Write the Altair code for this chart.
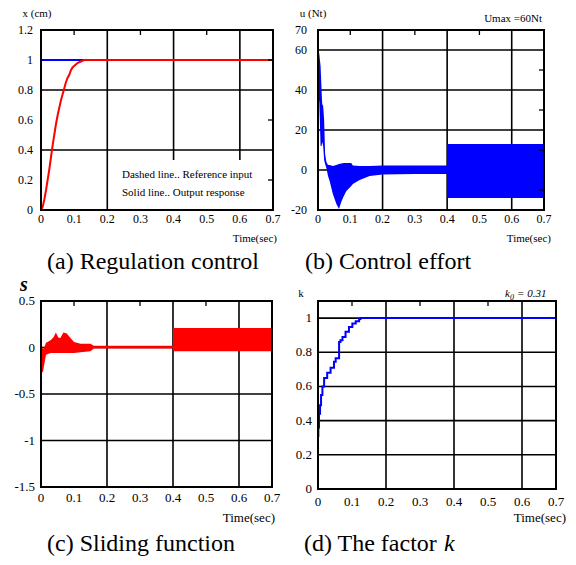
import altair as alt
import pandas as pd

# ---------------- data ----------------
time_ticks = [0, 0.1, 0.2, 0.3, 0.4, 0.5, 0.6, 0.7]
time_labels = ["0", "0.1", "0.2", "0.3", "0.4", "0.5", "0.6", "0.7"]
grid_time = [0.2, 0.4, 0.6]
minor_time = [0.1, 0.3, 0.5]

# (a) regulation control
ref_t = [0, 0.7]
ref_x = [1, 1]
out_t = [0, 0.005, 0.01, 0.015, 0.02, 0.025, 0.03, 0.035, 0.04, 0.045, 0.05, 0.055, 0.06,
         0.065, 0.07, 0.075, 0.08, 0.085, 0.09, 0.095, 0.1, 0.11, 0.12, 0.13, 0.14, 0.7]
out_x = [0, 0.02, 0.07, 0.13, 0.2, 0.27, 0.35, 0.43, 0.5, 0.57, 0.63, 0.68, 0.73,
         0.77, 0.81, 0.85, 0.88, 0.9, 0.93, 0.95, 0.96, 0.98, 0.99, 1.0, 1.0, 1.0]
a_yticks = [0, 0.2, 0.4, 0.6, 0.8, 1, 1.2]
a_ylabels = ["0", "0.2", "0.4", "0.6", "0.8", "1", "1.2"]
a_ygrid = [0.4, 0.8]
a_yminor = [0.2, 0.6, 1.0]

# (b) control effort (envelope of the chattering signal)
u_t = [0, 0.004, 0.008, 0.011, 0.013, 0.016, 0.019, 0.022, 0.026, 0.031, 0.036, 0.046,
       0.057, 0.065, 0.072, 0.08, 0.088, 0.103, 0.108, 0.129, 0.16, 0.2, 0.3, 0.3999, 0.4, 0.7]
u_hi = [61, 58, 52, 40, 33, 32, 25, 8, 4, 2.5, 2.5, 2, 2.5, 3, 3.3, 3.5, 3.5, 3.5, 2.2, 2,
        2, 2.3, 2.3, 2.3, 13, 13]
u_lo = [37, 34, 12, 12, 14, 12, 5, 3, 1, -3, -5.5, -12, -17, -19.5, -16, -13, -10.5, -8, -7,
        -5, -3, -2.3, -2, -2, -14, -14]
b_yticks = [-20, 0, 20, 40, 60, 70]
b_ylabels = ["-20", "0", "20", "40", "60", "70"]
b_ygrid = [0, 20, 40, 60]
b_yminor = [-10, 10, 30, 50]

# (c) sliding function (envelope)
s_t = [0, 0.003, 0.006, 0.01, 0.015, 0.02, 0.03, 0.038, 0.045, 0.052, 0.058, 0.068, 0.078,
       0.09, 0.1, 0.12, 0.15, 0.16, 0.3999, 0.4, 0.7]
s_hi = [0.03, 0.02, -0.02, 0.0, 0.05, 0.06, 0.08, 0.11, 0.16, 0.11, 0.1, 0.16, 0.15,
        0.1, 0.06, 0.04, 0.04, 0.02, 0.02, 0.21, 0.21]
s_lo = [-0.12, -0.27, -0.26, -0.18, -0.08, -0.07, -0.06, -0.06, -0.06, -0.06, -0.06, -0.06,
        -0.06, -0.06, -0.06, -0.05, -0.04, -0.01, -0.01, -0.04, -0.04]
c_yticks = [-1.5, -1, -0.5, 0, 0.5]
c_ylabels = ["-1.5", "-1", "-0.5", "0", "0.5"]
c_ygrid = [-1, -0.5, 0]
c_yminor = []

# (d) factor k
k_t = [0, 0.001, 0.003, 0.006, 0.009, 0.013, 0.018, 0.027, 0.037, 0.047, 0.052, 0.062,
       0.066, 0.072, 0.081, 0.091, 0.101, 0.111, 0.121, 0.125, 0.7]
k_v = [0.31, 0.36, 0.44, 0.49, 0.55, 0.6, 0.65, 0.68, 0.71, 0.745, 0.765, 0.86,
       0.87, 0.89, 0.92, 0.948, 0.968, 0.982, 0.995, 1.0, 1.0]
d_yticks = [0, 0.2, 0.4, 0.6, 0.8, 1]
d_ylabels = ["0", "0.2", "0.4", "0.6", "0.8", "1"]
d_ygrid = [0.2, 0.4, 0.6, 0.8, 1.0]
d_yminor = []

# ---------------- helpers ----------------
SERIF = "Liberation Serif"
RED = "#ff0000"
BLUE = "#0000ff"
ONE = alt.Data(values=[{"o": 1}])


def label(text, x, y, size=11, align="left", baseline="alphabetic", style="normal",
          weight="normal"):
    return alt.Chart(ONE).mark_text(
        text=text, align=align, baseline=baseline, font=SERIF, fontSize=size,
        fontStyle=style, fontWeight=weight, color="black"
    ).encode(x=alt.value(x), y=alt.value(y))


def panel(W, H, ydom, yticks, ylabels, ygrid, yminor, xlab, ylab, xpad, ypad, middle, front):
    xs = alt.Scale(domain=[0, 0.7], nice=False, zero=False)
    ys = alt.Scale(domain=ydom, nice=False, zero=False)
    layers = [
        alt.Chart(pd.DataFrame({"g": grid_time})).mark_rule(color="black", strokeWidth=1.6)
        .encode(x=alt.X("g:Q", scale=xs, axis=None)),
        alt.Chart(pd.DataFrame({"g": ygrid})).mark_rule(color="black", strokeWidth=1.6)
        .encode(y=alt.Y("g:Q", scale=ys, axis=None)),
    ]
    layers += middle(xs, ys)
    layers.append(
        alt.Chart(pd.DataFrame({"t": minor_time})).mark_rule(color="black", strokeWidth=1.3)
        .encode(x=alt.X("t:Q", scale=xs, axis=None), y=alt.value(0), y2=alt.value(5))
    )
    if yminor:
        layers.append(
            alt.Chart(pd.DataFrame({"v": yminor})).mark_rule(color="black", strokeWidth=1.3)
            .encode(y=alt.Y("v:Q", scale=ys, axis=None), x=alt.value(W - 5), x2=alt.value(W))
        )
    layers.append(
        alt.Chart(ONE).mark_rect(fillOpacity=0, stroke="black", strokeWidth=2)
        .encode(x=alt.value(0), x2=alt.value(W), y=alt.value(0), y2=alt.value(H))
    )
    # tick labels, positioned through the scales
    layers.append(
        alt.Chart(pd.DataFrame({"t": time_ticks, "lab": time_labels}))
        .mark_text(baseline="top", align="center", font=SERIF, fontSize=xlab, color="black")
        .encode(x=alt.X("t:Q", scale=xs, axis=None), y=alt.value(H + xpad), text="lab:N")
    )
    layers.append(
        alt.Chart(pd.DataFrame({"v": yticks, "lab": ylabels}))
        .mark_text(baseline="middle", align="right", font=SERIF, fontSize=ylab, color="black")
        .encode(y=alt.Y("v:Q", scale=ys, axis=None), x=alt.value(-ypad), text="lab:N")
    )
    layers += front
    return alt.layer(*layers).properties(width=W, height=H)


# ---------------- panel (a) ----------------
WA, HA = 232, 180


def mid_a(xs, ys):
    return [
        alt.Chart(ONE).mark_rect(color="white")
        .encode(x=alt.value(68), x2=alt.value(WA), y=alt.value(130), y2=alt.value(HA)),
        alt.Chart(pd.DataFrame({"t": ref_t, "v": ref_x})).mark_line(color=BLUE, strokeWidth=2)
        .encode(x=alt.X("t:Q", scale=xs, axis=None), y=alt.Y("v:Q", scale=ys, axis=None)),
        alt.Chart(pd.DataFrame({"t": out_t, "v": out_x})).mark_line(color=RED, strokeWidth=2)
        .encode(x=alt.X("t:Q", scale=xs, axis=None), y=alt.Y("v:Q", scale=ys, axis=None)),
    ]


anchor = alt.Chart(ONE).mark_rule(color="white", opacity=0, strokeWidth=1).encode(
    x=alt.value(-33), x2=alt.value(-33), y=alt.value(-22), y2=alt.value(-21))

A = panel(WA, HA, [0, 1.2], a_yticks, a_ylabels, a_ygrid, a_yminor, 12, 12, 4, 8, mid_a, [
    label("x (cm)", -4, -13, 11, align="center"),
    label("Dashed line.. Reference input", 81, 145, 11, baseline="middle"),
    label("Solid line.. Output response", 81, 163, 11, baseline="middle"),
    label("Time(sec)", 236, 212, 11, align="right"),
    label("(a) Regulation control", 112, 239, 24, align="center"),
    anchor,
])

# ---------------- panel (b) ----------------
WB, HB = 226, 180


def mid_b(xs, ys):
    return [
        alt.Chart(pd.DataFrame({"t": u_t, "hi": u_hi, "lo": u_lo})).mark_area(color=BLUE)
        .encode(x=alt.X("t:Q", scale=xs, axis=None), y=alt.Y("lo:Q", scale=ys, axis=None),
                y2="hi:Q"),
    ]


B = panel(WB, HB, [-20, 70], b_yticks, b_ylabels, b_ygrid, b_yminor, 12, 12, 4, 11, mid_b, [
    label("u (Nt)", -5, -13, 11, align="center"),
    label("Umax =60Nt", 224, -8, 11, align="right"),
    label("Time(sec)", 233, 212, 11, align="right"),
    label("(b) Control effort", 70, 239, 24, align="center"),
])

# ---------------- panel (c) ----------------
WC, HC = 231, 186


def mid_c(xs, ys):
    return [
        alt.Chart(pd.DataFrame({"t": s_t, "hi": s_hi, "lo": s_lo})).mark_area(color=RED)
        .encode(x=alt.X("t:Q", scale=xs, axis=None), y=alt.Y("lo:Q", scale=ys, axis=None),
                y2="hi:Q"),
    ]


C = panel(WC, HC, [-1.5, 0.5], c_yticks, c_ylabels, c_ygrid, c_yminor, 13, 13, 5, 6, mid_c, [
    label("s", -17, -10, 20, align="center", style="italic", weight="bold"),
    label("Time(sec)", 234, 221, 13, align="right"),
    label("(c) Sliding function", 100, 250, 24, align="center"),
])

# ---------------- panel (d) ----------------
WD, HD = 238, 188


def mid_d(xs, ys):
    return [
        alt.Chart(pd.DataFrame({"t": k_t, "v": k_v}))
        .mark_line(color=BLUE, strokeWidth=2, interpolate="step-after")
        .encode(x=alt.X("t:Q", scale=xs, axis=None), y=alt.Y("v:Q", scale=ys, axis=None)),
    ]


D = panel(WD, HD, [0, 1.1], d_yticks, d_ylabels, d_ygrid, d_yminor, 13, 13, 7, 6, mid_d, [
    label("k", -17, -4, 11, align="center"),
    label("k", 187, -4, 11, style="italic"),
    label("0", 192, -1, 8, style="italic"),
    label("= 0.31", 199, -4, 11, style="italic"),
    label("Time(sec)", 248, 221, 13, align="right"),
    label("(d) The factor", -14, 250, 24),
    label("k", 126, 250, 24, style="italic"),
])

chart = alt.concat(
    A, B, C, D, columns=2, spacing={"row": 91, "column": 45}, bounds="flush"
).properties(padding=0, background="white").configure_view(stroke=None)

chart.save("out.html", embed_options={"renderer": "svg", "actions": False})
